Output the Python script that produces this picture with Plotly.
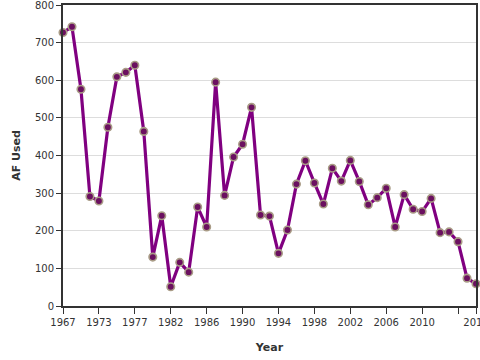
import plotly.graph_objects as go

years = ["1967", "1968", "1971", "1972", "1973", "1974", "1975", "1976", "1977", "1978",
         "1979", "1980"] + [str(y) for y in range(1982, 2017)]
af_used = [727, 742, 576, 291, 279, 475, 609, 621, 640, 464,
           130, 240, 51, 116, 90, 263, 210, 595, 294, 396,
           430, 528, 242, 239, 140, 202, 324, 386, 327, 271,
           366, 332, 387, 331, 269, 288, 313, 210, 296, 257,
           251, 286, 195, 197, 171, 74, 59]
tick_years = ["1967", "1973", "1977", "1982", "1986", "1990", "1994", "1998",
              "2002", "2006", "2010", "2014", "2016"]
tick_labels = ["1967", "1973", "1977", "1982", "1986", "1990", "1994", "1998",
               "2002", "2006", "2010", "", "2016"]
y_ticks = [0, 100, 200, 300, 400, 500, 600, 700, 800]

fig = go.Figure()
fig.add_trace(go.Scatter(
    x=years, y=af_used, mode="lines+markers",
    line=dict(color="#800080", width=3.2),
    marker=dict(size=7.5, color="#6b1060", line=dict(color="#a99c86", width=1.6)),
    cliponaxis=False, hoverinfo="x+y",
))

font_family = "DejaVu Sans"
fig.update_layout(
    width=480, height=360,
    margin=dict(l=63, r=4, t=5, b=54),
    paper_bgcolor="white", plot_bgcolor="white",
    showlegend=False,
    font=dict(family=font_family, size=10, color="#333333"),
    xaxis=dict(
        type="category", range=[0, len(years) - 1], automargin=False,
        tickmode="array", tickvals=tick_years, ticktext=tick_labels,
        ticks="outside", ticklen=6, tickwidth=1, tickcolor="#333333",
        showgrid=False, zeroline=False, ticklabeloverflow="allow",
        showline=True, linecolor="#333333", linewidth=2, mirror=True,
        title=dict(text="<b>Year</b>", font=dict(size=11, color="#333333"), standoff=16),
        tickfont=dict(size=10, color="#333333"),
    ),
    yaxis=dict(
        range=[0, 800], tickmode="array", tickvals=y_ticks, automargin=False,
        ticks="outside", ticklen=5, tickwidth=1, tickcolor="#333333",
        showgrid=True, gridcolor="#dddddd", gridwidth=1, zeroline=False,
        ticklabeloverflow="allow",
        showline=True, linecolor="#333333", linewidth=2, mirror=True,
        title=dict(text="<b>AF Used</b>", font=dict(size=11, color="#333333"), standoff=12),
        tickfont=dict(size=10, color="#333333"),
    ),
)

fig.write_html("out.html")
